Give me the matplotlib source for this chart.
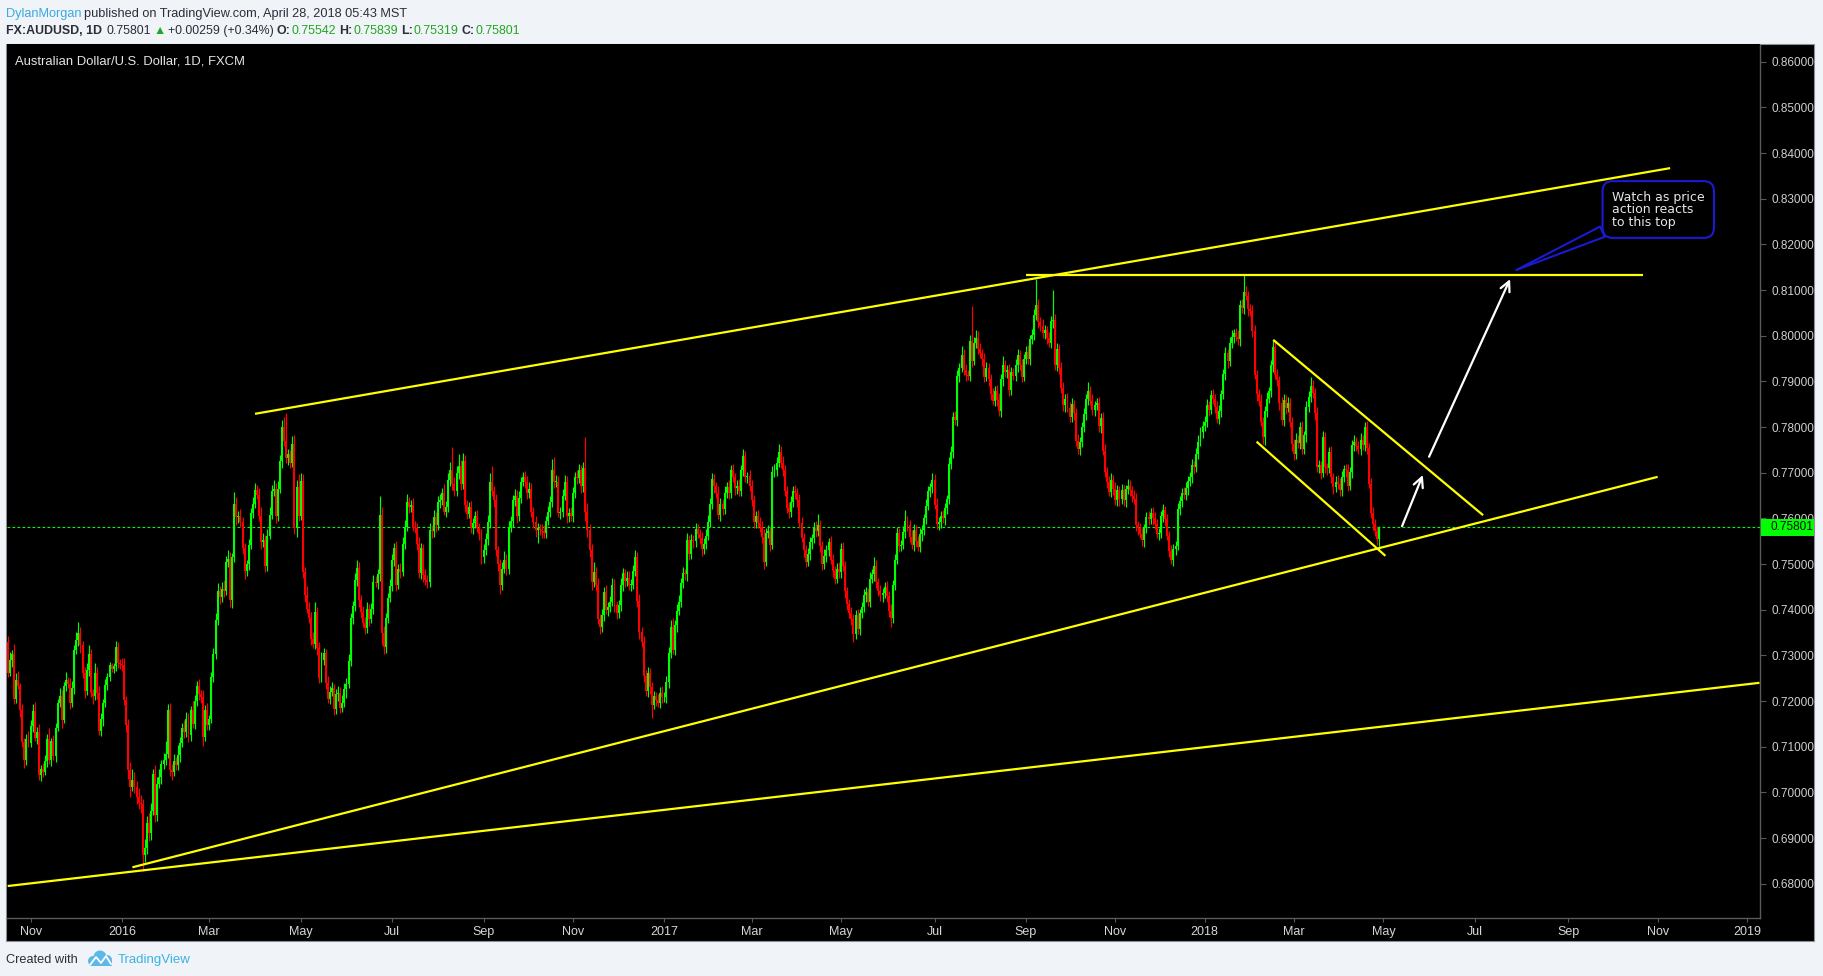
import numpy as np
import pandas as pd
import matplotlib
matplotlib.use("Agg")
import matplotlib.pyplot as plt
from matplotlib.patches import Rectangle, Circle
from matplotlib.transforms import blended_transform_factory, IdentityTransform
from matplotlib import font_manager

W, H = 1824, 976

# ------------------------------------------------------------------
# FX:AUDUSD daily candles, values in pips (price * 1e4)
# open of each bar = close of the previous bar
# ------------------------------------------------------------------
start_day = "2015-10-16"
first_open = 7330

close_2015 = [
    7262, 7290, 7302, 7205, 7246, 7232, 7180, 7110, 7072, 7118, 7108,
    7145, 7178, 7120, 7132, 7038, 7052, 7045, 7068, 7118, 7072, 7112, 7080, 7142, 7196, 7212, 7158, 7232, 7246, 7238, 7196, 7228,
    7312, 7334, 7348, 7322, 7262, 7222, 7268, 7302, 7218, 7212, 7262, 7218, 7135, 7160, 7196, 7236, 7252, 7278, 7270, 7276, 7318, 7284, 7282,
]
close_2016 = [
    7280, 7202, 7148, 7048, 7012, 7028, 7012, 6990, 6976, 6974, 6862, 6878, 6934, 6912, 6960, 7040, 6950, 7018, 7034, 7062, 7072,
    7085, 7180, 7050, 7045, 7068, 7060, 7082, 7108, 7140, 7132, 7160, 7125, 7180, 7150, 7200, 7232, 7215, 7210, 7122, 7180, 7148,
    7160, 7252, 7302, 7378, 7440, 7428, 7446, 7442, 7505, 7512, 7422, 7515, 7632, 7602, 7605, 7592, 7535, 7484, 7500, 7542, 7612, 7632, 7662,
    7652, 7606, 7548, 7552, 7496, 7562, 7608, 7660, 7665, 7606, 7665, 7725, 7800, 7770, 7732, 7740, 7722, 7762, 7580, 7668, 7606,
    7682, 7482, 7432, 7402, 7382, 7336, 7326, 7396, 7316, 7250, 7290, 7305, 7240, 7205, 7220, 7228, 7182, 7215, 7218, 7185, 7196, 7226,
    7238, 7288, 7382, 7408, 7465, 7492, 7422, 7395, 7372, 7360, 7402, 7380, 7402, 7460, 7458, 7478, 7608, 7350, 7318, 7382, 7425, 7452,
    7508, 7535, 7455, 7490, 7482, 7545, 7582, 7635, 7625, 7630, 7582, 7580, 7545, 7480, 7535, 7475, 7465, 7460, 7575, 7572, 7602,
    7585, 7635, 7640, 7655, 7615, 7625, 7685, 7705, 7675, 7660, 7700, 7715, 7675, 7725, 7630, 7610, 7625, 7580, 7590, 7605, 7580, 7565, 7515,
    7530, 7555, 7592, 7680, 7660, 7640, 7530, 7500, 7455, 7490, 7510, 7490, 7580, 7595, 7640, 7650, 7605, 7645, 7680, 7690, 7680, 7655,
    7665, 7615, 7592, 7575, 7578, 7575, 7572, 7568, 7595, 7615, 7635, 7705, 7680, 7680, 7612, 7615, 7650, 7680, 7605, 7612, 7605,
    7655, 7690, 7688, 7705, 7670, 7710, 7615, 7575, 7530, 7460, 7482, 7455, 7380, 7362, 7388, 7438, 7400, 7406, 7418, 7455, 7410, 7392,
    7410, 7455, 7480, 7462, 7470, 7455, 7455, 7485, 7515, 7420, 7352, 7330, 7255, 7222, 7262, 7230, 7192, 7212, 7202, 7195, 7218, 7208,
]
close_2017 = [
    7208, 7242, 7306, 7362, 7312, 7366, 7398, 7418, 7458, 7480, 7478, 7552, 7522, 7552, 7550, 7576, 7566, 7556, 7532, 7545, 7562, 7592,
    7632, 7686, 7670, 7656, 7608, 7632, 7620, 7656, 7668, 7656, 7706, 7690, 7666, 7672, 7660, 7706, 7736, 7690, 7692, 7670,
    7640, 7592, 7606, 7590, 7582, 7560, 7505, 7568, 7572, 7542, 7702, 7706, 7722, 7746, 7722, 7706, 7660, 7622, 7615, 7636, 7660, 7655, 7640,
    7590, 7558, 7530, 7505, 7522, 7548, 7556, 7580, 7572, 7585, 7540, 7500, 7518, 7530, 7548, 7510, 7485, 7468, 7490, 7482,
    7532, 7495, 7440, 7412, 7392, 7380, 7346, 7388, 7358, 7392, 7406, 7432, 7438, 7418, 7468, 7478, 7496, 7460, 7440, 7432, 7436, 7450, 7430,
    7398, 7382, 7455, 7510, 7568, 7540, 7542, 7570, 7594, 7586, 7560, 7542, 7575, 7550, 7538, 7565, 7574, 7600, 7628, 7660, 7668, 7685,
    7630, 7588, 7592, 7605, 7600, 7622, 7642, 7720, 7746, 7822, 7815, 7912, 7930, 7958, 7925, 7915, 7912, 7988, 7945, 7985, 7996,
    7972, 7962, 7948, 7910, 7930, 7905, 7872, 7858, 7880, 7860, 7835, 7905, 7935, 7920, 7925, 7882, 7920, 7912, 7935, 7958, 7935, 7910, 7948,
    7965, 7950, 7992, 8002, 8045, 8068, 8030, 8022, 8005, 8012, 7995, 7985, 8032, 8034, 7935, 7972, 7930, 7885, 7848, 7862, 7842,
    7822, 7850, 7830, 7770, 7752, 7768, 7800, 7828, 7862, 7878, 7858, 7838, 7848, 7852, 7802, 7820, 7748, 7702, 7680, 7658, 7685, 7665,
    7640, 7662, 7642, 7662, 7640, 7664, 7672, 7662, 7650, 7642, 7585, 7578, 7566, 7552, 7578, 7602, 7598, 7612, 7600, 7588, 7566, 7568,
    7605, 7618, 7598, 7562, 7528, 7510, 7532, 7540, 7620, 7638, 7656, 7652, 7666, 7682, 7690, 7716, 7712, 7742, 7768, 7790, 7802,
]
close_2018 = [
    7812, 7848, 7838, 7870, 7862, 7845, 7818, 7835, 7872, 7916, 7962, 7944, 7985, 7998, 8005, 7998, 7992, 8068, 8060, 8095, 8088, 8058, 8055,
    8010, 7915, 7872, 7858, 7812, 7778, 7835, 7862, 7878, 7935, 7976, 7915, 7902, 7852, 7815, 7860, 7842, 7852, 7812, 7762,
    7742, 7772, 7765, 7800, 7752, 7782, 7845, 7865, 7890, 7875, 7830, 7712, 7716, 7700, 7778, 7712, 7710, 7745, 7690, 7668, 7680, 7676,
    7662, 7690, 7708, 7705, 7672, 7702, 7760, 7768, 7758, 7752, 7772, 7760, 7800, 7755, 7676, 7612, 7588, 7572, 7554.2, 7580.1,
]

# upper wick (pips above the body)
wick_up_2015 = [
    12, 18, 10, 22, 15, 20, 8, 14, 10, 9, 16,
    14, 16, 20, 12, 18, 9, 12, 15, 10, 22, 8, 14, 11, 9, 16, 12, 10, 18, 7, 12, 15,
    10, 18, 25, 14, 9, 12, 15, 20, 11, 8, 22, 12, 16, 14, 9, 12, 10, 8, 5, 7, 14, 12, 9,
]
wick_up_2016 = [
    12, 15, 10, 12, 18, 24, 16, 14, 20, 18, 12, 20, 14, 22, 16, 12, 20, 15, 18, 10, 15,
    28, 14, 15, 12, 16, 10, 22, 14, 12, 18, 15, 14, 9, 20, 14, 12, 16, 10, 14, 12, 15,
    10, 12, 15, 14, 18, 12, 15, 20, 12, 18, 14, 10, 25, 14, 12, 16, 10, 12, 9, 12, 10, 14, 16,
    12, 14, 18, 16, 12, 15, 18, 14, 20, 12, 16, 14, 15, 22, 60, 12, 10, 18, 20, 15, 30,
    18, 15, 12, 20, 14, 12, 16, 22, 10, 14, 18, 12, 10, 16, 12, 14, 10, 12, 15, 12, 18, 14,
    12, 14, 10, 12, 15, 18, 12, 10, 14, 12, 16, 10, 12, 15, 14, 12, 40, 18, 14, 10, 12, 15,
    14, 12, 16, 10, 12, 14, 15, 18, 12, 10, 14, 12, 10, 15, 12, 10, 14, 12, 15, 10, 16,
    12, 15, 14, 12, 20, 14, 15, 18, 52, 16, 14, 25, 12, 18, 14, 10, 12, 14, 10, 12, 14, 10, 12,
    14, 12, 15, 20, 35, 12, 14, 10, 12, 14, 18, 12, 14, 10, 12, 15, 12, 14, 10, 12, 14, 12,
    14, 12, 10, 14, 12, 10, 12, 14, 10, 12, 14, 25, 30, 14, 12, 10, 14, 16, 12, 10, 14,
    14, 12, 16, 15, 12, 14, 68, 18, 12, 14, 22, 12, 15, 10, 14, 12, 16, 10, 12, 14, 12, 10,
    12, 14, 12, 10, 14, 15, 12, 14, 16, 12, 14, 10, 12, 14, 12, 10, 12, 10, 8, 14, 12, 15,
]
wick_up_2017 = [
    12, 14, 12, 16, 20, 12, 14, 15, 12, 14, 10, 16, 12, 14, 12, 15, 12, 10, 14, 12, 14, 16,
    12, 14, 12, 10, 14, 12, 10, 14, 12, 16, 12, 14, 10, 12, 14, 12, 15, 12, 10, 14,
    14, 12, 10, 12, 14, 12, 16, 12, 14, 10, 12, 14, 12, 18, 12, 14, 10, 12, 14, 12, 10, 14, 12,
    14, 12, 10, 12, 14, 12, 10, 12, 14, 25, 12, 10, 14, 12, 10, 14, 12, 10, 12, 14,
    14, 16, 12, 10, 12, 14, 10, 12, 14, 10, 12, 14, 12, 10, 14, 12, 20, 12, 10, 14, 12, 10, 14,
    12, 14, 10, 12, 14, 12, 10, 14, 25, 12, 10, 14, 12, 10, 12, 14, 12, 10, 14, 12, 10, 14,
    12, 14, 10, 12, 14, 12, 10, 14, 12, 10, 14, 12, 10, 20, 14, 12, 10, 14, 78, 12, 16,
    14, 12, 10, 14, 12, 10, 12, 14, 10, 12, 14, 12, 20, 12, 10, 14, 12, 10, 14, 12, 10, 14, 12,
    12, 14, 10, 12, 14, 57, 12, 10, 14, 12, 10, 14, 12, 66, 14, 12, 10, 12, 14, 10, 12,
    12, 14, 10, 12, 14, 10, 12, 14, 10, 20, 12, 14, 10, 12, 14, 10, 12, 14, 10, 12, 14, 10,
    14, 12, 10, 14, 12, 10, 14, 12, 10, 12, 14, 10, 12, 14, 10, 12, 14, 10, 12, 14, 10, 12,
    12, 14, 10, 12, 10, 14, 12, 10, 14, 12, 10, 12, 14, 10, 12, 14, 10, 12, 14, 10, 12,
]
wick_up_2018 = [
    12, 14, 10, 12, 14, 10, 12, 14, 10, 12, 14, 10, 12, 14, 10, 12, 14, 10, 12, 40, 14, 10, 12,
    12, 14, 10, 12, 14, 10, 12, 14, 10, 12, 14, 14, 12, 10, 14, 12, 10, 14, 12, 10,
    12, 14, 10, 12, 14, 10, 12, 14, 20, 12, 10, 14, 12, 10, 14, 12, 10, 12, 14, 10, 12, 14,
    12, 14, 10, 12, 14, 10, 12, 14, 10, 12, 14, 10, 12, 14, 10, 12, 14, 10, 12, 3.8,
]

# lower wick (pips below the body)
wick_dn_2015 = [
    10, 8, 15, 12, 9, 6, 14, 10, 18, 12, 8,
    9, 12, 8, 15, 10, 14, 11, 6, 12, 9, 15, 10, 13, 8, 10, 18, 7, 11, 9, 14, 10,
    12, 9, 14, 16, 11, 15, 8, 12, 10, 18, 9, 14, 10, 12, 15, 8, 11, 9, 6, 8, 10, 11, 12,
]
wick_dn_2016 = [
    14, 10, 16, 18, 22, 10, 14, 16, 12, 20, 35, 14, 12, 18, 16, 10, 14, 12, 8, 15, 10,
    12, 10, 14, 18, 9, 12, 10, 15, 8, 12, 10, 14, 12, 9, 11, 10, 12, 15, 20, 10, 12,
    12, 8, 10, 9, 12, 15, 12, 14, 10, 12, 15, 18, 10, 16, 12, 10, 14, 16, 10, 12, 9, 12, 10,
    10, 12, 15, 10, 14, 12, 8, 10, 12, 15, 12, 10, 14, 12, 10, 15, 12, 10, 14, 20, 12,
    10, 12, 16, 10, 12, 14, 10, 12, 15, 10, 8, 12, 14, 10, 12, 8, 12, 10, 14, 12, 10, 9,
    20, 10, 12, 14, 10, 12, 15, 12, 10, 14, 12, 16, 10, 12, 9, 12, 14, 28, 15, 12, 10, 9,
    10, 12, 14, 10, 12, 9, 12, 10, 14, 12, 10, 12, 14, 10, 12, 15, 10, 12, 10, 14, 12,
    14, 10, 12, 10, 8, 12, 10, 14, 12, 10, 12, 14, 12, 10, 15, 12, 10, 12, 14, 12, 10, 12, 14,
    12, 10, 14, 12, 10, 14, 12, 16, 20, 12, 10, 14, 12, 10, 14, 12, 15, 10, 12, 10, 14, 12,
    10, 12, 14, 16, 28, 12, 14, 10, 12, 10, 12, 10, 14, 12, 10, 14, 12, 10, 14, 12, 10,
    12, 10, 12, 10, 14, 12, 20, 15, 14, 16, 10, 14, 12, 16, 10, 12, 10, 14, 12, 10, 14, 12,
    10, 12, 14, 12, 10, 12, 14, 10, 12, 14, 16, 12, 14, 10, 12, 14, 30, 10, 12, 8, 10, 12,
]
wick_dn_2017 = [
    10, 12, 14, 12, 10, 12, 14, 10, 12, 10, 12, 14, 12, 10, 14, 12, 10, 12, 14, 10, 12, 10,
    10, 12, 14, 12, 10, 14, 12, 10, 12, 14, 12, 10, 14, 12, 10, 12, 14, 10, 12, 10,
    12, 14, 12, 10, 12, 14, 15, 10, 12, 14, 10, 12, 14, 10, 12, 14, 12, 10, 14, 12, 10, 12, 14,
    12, 10, 14, 12, 10, 12, 14, 10, 12, 10, 14, 12, 10, 14, 12, 10, 14, 12, 10, 12,
    12, 10, 14, 12, 10, 14, 17, 10, 12, 14, 10, 12, 14, 10, 12, 10, 14, 12, 10, 12, 14, 10, 12,
    14, 20, 10, 12, 10, 14, 12, 10, 12, 14, 12, 10, 14, 12, 10, 12, 14, 10, 12, 10, 14, 12,
    10, 12, 14, 12, 10, 14, 12, 10, 12, 14, 10, 12, 14, 10, 12, 14, 10, 12, 14, 10, 12,
    12, 10, 14, 12, 10, 14, 12, 10, 12, 14, 10, 12, 14, 10, 12, 14, 12, 10, 12, 14, 10, 12, 10,
    10, 12, 14, 10, 12, 10, 14, 12, 10, 12, 14, 10, 12, 14, 10, 12, 14, 10, 12, 14, 10,
    12, 10, 14, 12, 10, 14, 12, 10, 12, 14, 10, 12, 14, 10, 12, 14, 10, 12, 14, 10, 12, 14,
    10, 12, 14, 10, 12, 14, 10, 12, 14, 10, 12, 14, 10, 12, 14, 10, 12, 10, 14, 12, 10, 14,
    10, 12, 14, 10, 12, 10, 14, 12, 10, 12, 14, 10, 12, 14, 10, 12, 14, 10, 12, 10, 14,
]
wick_dn_2018 = [
    10, 12, 14, 10, 12, 14, 10, 12, 14, 10, 12, 14, 10, 12, 14, 10, 12, 14, 10, 12, 10, 14, 12,
    12, 10, 14, 12, 10, 14, 18, 12, 10, 12, 14, 10, 12, 14, 10, 12, 14, 10, 12, 14,
    14, 12, 10, 14, 12, 10, 14, 12, 10, 12, 14, 10, 12, 14, 10, 12, 14, 10, 12, 14, 10, 12,
    14, 12, 10, 14, 12, 10, 14, 12, 10, 12, 14, 10, 12, 14, 10, 12, 14, 10, 12, 22.3,
]

# price scale
price_levels = [0.68, 0.69, 0.70, 0.71, 0.72, 0.73, 0.74, 0.75, 0.76, 0.77,
                0.78, 0.79, 0.80, 0.81, 0.82, 0.83, 0.84, 0.85, 0.86]

# drawings: (start day, price, end day, price)
yellow_lines = [
    ("2016-03-31", 0.7829, "2018-11-09", 0.8367),   # upper channel
    ("2017-09-01", 0.8133, "2018-10-23", 0.8133),   # double top level
    ("2016-01-08", 0.6836, "2018-11-01", 0.7691),   # lower channel
    ("2015-10-16", 0.6795, "2019-01-09", 0.7240),   # long base line
    ("2018-02-15", 0.7991, "2018-07-06", 0.7607),   # falling wedge top
    ("2018-02-05", 0.7768, "2018-05-02", 0.7518),   # falling wedge bottom
]
white_arrows = [
    ("2018-05-14", 0.7583, "2018-05-28", 0.7695),
    ("2018-05-31", 0.7735, "2018-07-25", 0.8124),
]
note_text = "Watch as price\naction reacts\nto this top"
note_tip = ("2018-07-30", 0.8144)
note_at = ("2018-10-02", 0.8318)

# ------------------------------------------------------------------
closes = np.array(close_2015 + close_2016 + close_2017 + close_2018, dtype=float) / 1e4
w_up = np.array(wick_up_2015 + wick_up_2016 + wick_up_2017 + wick_up_2018, dtype=float) / 1e4
w_dn = np.array(wick_dn_2015 + wick_dn_2016 + wick_dn_2017 + wick_dn_2018, dtype=float) / 1e4
assert len(closes) == len(w_up) == len(w_dn), (len(closes), len(w_up), len(w_dn))
opens = np.r_[first_open / 1e4, closes[:-1]]
highs = np.maximum(opens, closes) + w_up
lows = np.minimum(opens, closes) - w_dn
n = len(closes)

days = pd.bdate_range(start_day, "2019-03-01")


def pos(d):
    return days.searchsorted(pd.Timestamp(d))


names = {f.name for f in font_manager.fontManager.ttflist}
narrow = "Liberation Sans Narrow" if "Liberation Sans Narrow" in names else "Liberation Sans"


def fx(x):
    return x / W


def fy(y):
    return 1 - y / H


fig = plt.figure(figsize=(W / 100, H / 100), dpi=100)
fig.patch.set_facecolor("#f0f3f7")
fig.add_artist(Rectangle((fx(6.5), fy(940.5)), (1814 - 6.5) / W, (940.5 - 44) / H,
                         transform=fig.transFigure, fc="black", ec="#8a9099", lw=0.8, zorder=0))

ax = fig.add_axes([fx(7.5), fy(918), (1760 - 7.5) / W, (918 - 44.5) / H])
ax.set_facecolor("black")
ax.set_xlim(-0.1, 843.25)
ax.set_ylim(0.67250, 0.86377)

# candles
xs = np.arange(n)
cols = np.where(closes >= opens, "#00ff00", "#ff0000")
ax.vlines(xs, lows, highs, colors=cols, lw=0.85, zorder=3)
ax.bar(xs, np.maximum(np.abs(closes - opens), 0.00015), bottom=np.minimum(opens, closes),
       width=0.95, color=cols, lw=0, zorder=3)

# last price line
last = closes[-1]
ax.axhline(last, color="#00ff00", lw=0.8, ls=(0, (2.5, 2)), zorder=2)

for d0, p0, d1, p1 in yellow_lines:
    ax.plot([pos(d0), pos(d1)], [p0, p1], color="#ffff00", lw=1.6, solid_capstyle="butt", zorder=4)

for d0, p0, d1, p1 in white_arrows:
    ax.annotate("", xy=(pos(d1), p1), xytext=(pos(d0), p0),
                arrowprops=dict(arrowstyle="->,head_length=0.7,head_width=0.35", color="white",
                                lw=1.6, shrinkA=0, shrinkB=0), zorder=5)

ax.annotate(note_text, xy=(pos(note_tip[0]), note_tip[1]), xytext=(pos(note_at[0]), note_at[1]),
            ha="left", va="top", color="#e6e6e6", fontsize=9, family="DejaVu Sans", linespacing=0.95,
            bbox=dict(boxstyle="round,pad=0.75,rounding_size=0.8", fc="black", ec="#1a1ad2", lw=1.5),
            arrowprops=dict(arrowstyle="wedge,tail_width=0.9,shrink_factor=0.5", fc="black",
                            ec="#1a1ad2", lw=1.5, relpos=(0.03, 0.06), shrinkA=0, shrinkB=0),
            zorder=6)

# axes look
for s in ("left", "top"):
    ax.spines[s].set_visible(False)
for s in ("right", "bottom"):
    ax.spines[s].set_color("#5a5a5a")
    ax.spines[s].set_linewidth(1.0)

ax.yaxis.tick_right()
ax.set_yticks(price_levels)
ax.set_yticklabels([f"{p:.5f}" for p in price_levels])
ax.tick_params(axis="y", colors="#5a5a5a", labelcolor="#cfcfcf", length=4, width=0.8,
               pad=4, labelsize=8.5)
for lab in ax.get_yticklabels():
    lab.set_family("Liberation Sans")

month_ticks = pd.date_range("2015-11-01", "2019-01-01", freq="2MS")
ax.set_xticks([pos(m) for m in month_ticks])
ax.set_xticklabels([str(m.year) if m.month == 1 else m.strftime("%b") for m in month_ticks])
ax.tick_params(axis="x", colors="#5a5a5a", labelcolor="#d6d6d6", length=3, width=0.8,
               pad=3, labelsize=9)
for lab in ax.get_xticklabels():
    lab.set_family(narrow)

# last price tag on the scale
tr = blended_transform_factory(ax.transAxes, ax.transData)
ax.add_patch(Rectangle((1.0005, last - 0.00178), 0.0302, 0.00356, transform=tr,
                       fc="#00ff00", ec="none", clip_on=False, zorder=10))
ax.text(1.00599, last, f"{last:.5f}", transform=tr, ha="left", va="center", fontsize=8.5,
        color="#0a0a0a", family="Liberation Sans", clip_on=False, zorder=11)

# texts around the chart
fig.text(fx(15), fy(65), "Australian Dollar/U.S. Dollar, 1D, FXCM", color="#e4e4e4",
         fontsize=9.4, family=narrow, va="baseline")

renderer = fig.canvas.get_renderer()


def write_line(pieces, x, y, size):
    for txt, color, weight, gap in pieces:
        x += gap
        t = fig.text(fx(x), fy(y), txt, color=color, fontweight=weight, fontsize=size,
                     family=[narrow, "DejaVu Sans"], va="baseline")
        x += t.get_window_extent(renderer).width


dark, blue, green = "#2a2e39", "#3ba9e0", "#22a722"
write_line([("DylanMorgan", blue, "normal", 0),
            ("published on TradingView.com, April 28, 2018 05:43 MST", dark, "normal", 3)],
           6, 16.5, 9.2)
write_line([("FX:AUDUSD, 1D", dark, "bold", 0), ("0.75801", dark, "normal", 5),
            ("\u25B2", green, "normal", 2), ("+0.00259 (+0.34%)", dark, "normal", 2),
            ("O:", dark, "bold", 3), ("0.75542", green, "normal", 1),
            ("H:", dark, "bold", 3), ("0.75839", green, "normal", 1),
            ("L:", dark, "bold", 3), ("0.75319", green, "normal", 1),
            ("C:", dark, "bold", 3), ("0.75801", green, "normal", 1)],
           6, 34, 8.9)

fig.text(fx(6), fy(963), "Created with", color=dark, fontsize=9.2, family=narrow, va="baseline")
for cx, cy, r in [(93, 961, 5), (100, 957, 6.5), (107, 960, 5)]:
    fig.add_artist(Circle((cx, H - cy), r, transform=IdentityTransform(), fc="#5cb8e8", ec="none"))
fig.add_artist(Rectangle((89, H - 966), 23, 5, transform=IdentityTransform(), fc="#5cb8e8", ec="none"))
fig.add_artist(plt.Line2D([90, 96, 101, 106, 111], [H - 965, H - 957, H - 963, H - 956, H - 964],
                          transform=IdentityTransform(), color="white", lw=1.3))
fig.text(fx(118), fy(963), "TradingView", color="#3bb3e4", fontsize=9.5, family=narrow, va="baseline")

fig.savefig("out.png", dpi=100, facecolor=fig.get_facecolor())
